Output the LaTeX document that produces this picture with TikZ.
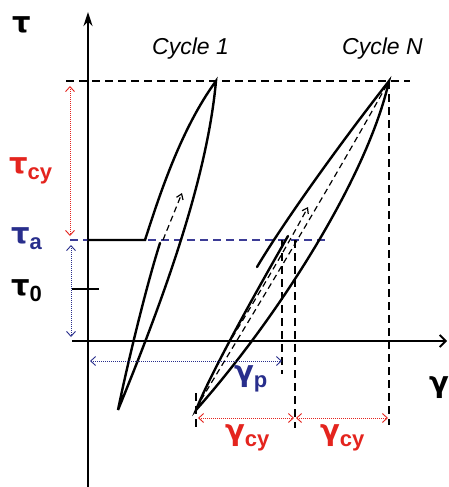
\documentclass[tikz,border=0pt]{standalone}
\usepackage{fontspec}
\setmainfont{Liberation Sans}
\newfontfamily\gk{DejaVu Sans}
\usetikzlibrary{arrows.meta}
\definecolor{cred}{RGB}{228,36,30}
\definecolor{cblue}{RGB}{40,46,140}
\definecolor{cdash}{RGB}{60,60,150}
\newcommand\lsub[1]{\raisebox{-6pt}{\fontsize{22}{22}\selectfont\bfseries #1}}
\newcommand\gtau{{\gk\bfseries τ}}
\newcommand\ggam{{\gk\bfseries γ}}
\tikzset{
  axisline/.style={line width=2.3pt},
  curve/.style={line width=2.4pt, line cap=round},
  kdash/.style={line width=1.7pt, dash pattern=on 8pt off 5pt},
  bdash/.style={line width=1.7pt, dash pattern=on 8pt off 5pt, draw=cdash},
  ldash/.style={line width=1.2pt, dash pattern=on 6pt off 4pt},
  rdot/.style={line width=0.9pt, draw=cred, dash pattern=on 1pt off 1pt, {Straight Barb[length=5pt,width=9pt,line width=0.9pt]}-{Straight Barb[length=5pt,width=9pt,line width=0.9pt]}},
  bdot/.style={line width=0.9pt, draw=cblue, dash pattern=on 1pt off 1pt, {Straight Barb[length=5pt,width=9pt,line width=0.9pt]}-{Straight Barb[length=5pt,width=9pt,line width=0.9pt]}},
  lab/.style={anchor=base west, inner sep=0pt, font=\fontsize{29}{29}\selectfont\bfseries},
  cyc/.style={anchor=base west, inner sep=0pt, font=\fontsize{23}{23}\selectfont\itshape},
  hd/.style={-{Straight Barb[length=5pt,width=7pt,line width=1.2pt]}}
}
\begin{document}
\begin{tikzpicture}[x=1pt,y=-1pt]
\useasboundingbox[fill=white] (0,0) rectangle (448,487);
% axes
\coordinate (ybot) at (88,487); \coordinate (ytop) at (88,12);
\coordinate (xl) at (72,341); \coordinate (xr) at (447,341);
\draw[axisline,-{Stealth[length=14pt,width=9pt]}] (ybot) -- (ytop);
\draw[axisline,-{Straight Barb[length=6pt,width=12pt,line width=1.8pt]}] (xl) -- (xr);
% tau0 tick
\coordinate (t0a) at (72,289); \coordinate (t0b) at (99,289);
\draw[axisline] (t0a) -- (t0b);
% guide lines
\coordinate (hl) at (66,81); \coordinate (hr) at (410,81);
\draw[kdash] (hl) -- (hr);
\coordinate (al) at (70,240); \coordinate (ar) at (326,240);
\draw[bdash] (al) -- (ar);
\coordinate (P) at (389,81); \coordinate (Q) at (196,410);
\coordinate (vN) at (389,425);
\draw[kdash] (P) -- (vN);
\coordinate (vpA) at (282,240); \coordinate (vpB) at (282,374);
\draw[kdash] (vpA) -- (vpB);
\coordinate (vcA) at (295,240); \coordinate (vcB) at (295,428);
\draw[kdash] (vcA) -- (vcB);
\coordinate (vqA) at (196,393); \coordinate (vqB) at (196,428);
\draw[kdash] (vqA) -- (vqB);
% cycle 1
\coordinate (c1s) at (88,240); \coordinate (c1k) at (145,240);
\coordinate (c1P) at (216,81); \coordinate (c1Q) at (118,410);
\coordinate (c1e) at (160,243);
\draw[curve] (c1s) -- (c1k) .. controls (158,200) and (180,130) .. (c1P)
  .. controls (207,180) and (163,300) .. (c1Q)
  .. controls (125,375) and (145,290) .. (c1e);
\coordinate (c1d1) at (163,240); \coordinate (c1d2) at (182,193);
\draw[ldash,hd] (c1d1) -- (c1d2);
% cycle N
\coordinate (Cs) at (257,267);
\draw[curve] (Cs) .. controls (282,225) and (335,150) .. (P)
  .. controls (368,175) and (280,315) .. (Q)
  .. controls (212,370) and (260,285) .. (288,236);
\coordinate (D2s) at (201,400);
\draw[ldash] (D2s) .. controls (240,335) and (320,205) .. (P);
\coordinate (D1s) at (232,338); \coordinate (D1e) at (308,207);
\draw[ldash,hd] (D1s) .. controls (255,300) and (285,250) .. (D1e);
% dotted dimension arrows
\coordinate (tcyA) at (70,86); \coordinate (tcyB) at (70,236);
\draw[rdot] (tcyA) -- (tcyB);
\coordinate (taA) at (71,245); \coordinate (taB) at (71,337);
\draw[bdot] (taA) -- (taB);
\coordinate (gpA) at (90,361); \coordinate (gpB) at (282,361);
\draw[bdot] (gpA) -- (gpB);
\coordinate (g1A) at (198,418); \coordinate (g1B) at (294,418);
\draw[rdot] (g1A) -- (g1B);
\coordinate (g2A) at (296,418); \coordinate (g2B) at (388,418);
\draw[rdot] (g2A) -- (g2B);
% labels
\node[lab] (tau) at (12,33) {\gtau};
\node[lab,text=cred] (tcy) at (9,173) {\gtau\lsub{cy}};
\node[lab,text=cblue] (ta) at (11,243) {\gtau\lsub{a}};
\node[lab] (t0) at (11,295) {\gtau\lsub{0}};
\node[lab] (gam) at (429,392) {\ggam};
\node[lab,text=cblue] (gp) at (234,381) {\ggam\lsub{p}};
\node[lab,text=cred] (gcy1) at (225,440) {\ggam\lsub{cy}};
\node[lab,text=cred] (gcy2) at (320,440) {\ggam\lsub{cy}};
\node[cyc] (cyc1) at (152,55) {Cycle 1};
\node[cyc] (cycN) at (342,55) {Cycle N};
\end{tikzpicture}
\end{document}
